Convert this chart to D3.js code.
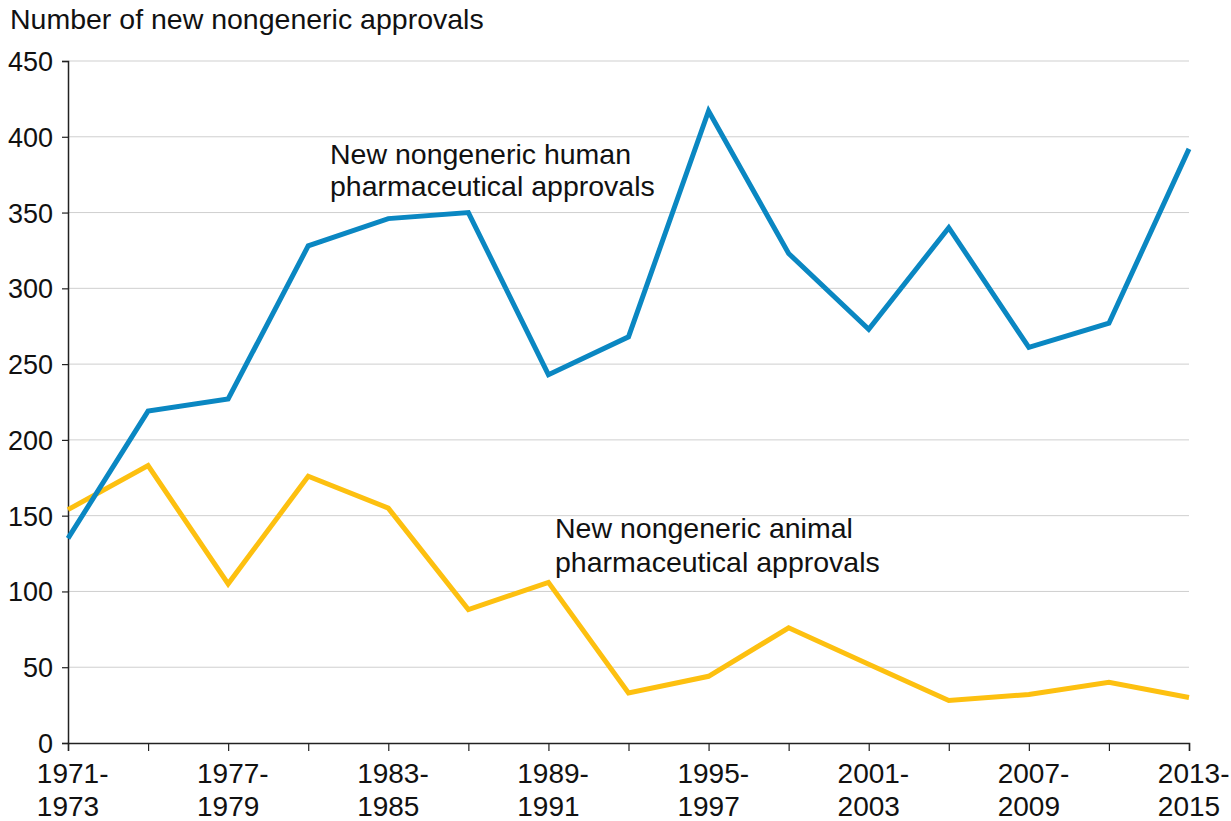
<!DOCTYPE html>
<html><head><meta charset="utf-8">
<script src="https://cdn.jsdelivr.net/npm/d3@7"></script>
<style>
body{margin:0;background:#fff;}
text{font-family:"Liberation Sans",Arial,Helvetica,sans-serif;fill:#111;}
</style></head>
<body>
<svg id="chart" width="1231" height="821"></svg>
<script>
const periods = ["1971-1973","1974-1976","1977-1979","1980-1982","1983-1985","1986-1988","1989-1991","1992-1994","1995-1997","1998-2000","2001-2003","2004-2006","2007-2009","2010-2012","2013-2015"];
const humanApprovals = [135,219,227,328,346,350,243,268,417,323,273,340,261,277,392];
const animalApprovals = [154,183,105,176,155,88,106,33,44,76,52,28,32,40,30];
const yTicks = [0,50,100,150,200,250,300,350,400,450];
const labeledPeriods = ["1971-1973","1977-1979","1983-1985","1989-1991","1995-1997","2001-2003","2007-2009","2013-2015"];
const yTitle = "Number of new nongeneric approvals";
const humanLabel = ["New nongeneric human","pharmaceutical approvals"];
const animalLabel = ["New nongeneric animal","pharmaceutical approvals"];

(function(){
const svg = d3.select("#chart");
const mLeft = 68, mRight = 1189, mTop = 61, mBottom = 743;
const x = d3.scalePoint().domain(periods).range([mLeft, mRight]);
const y = d3.scaleLinear().domain([0,450]).range([mBottom, mTop]);

// gridlines
svg.append("g").selectAll("line").data(yTicks.filter(d=>d>0)).join("line")
  .attr("x1", mLeft).attr("x2", mRight)
  .attr("y1", d=>y(d)).attr("y2", d=>y(d))
  .attr("stroke", "#cfcfcf").attr("stroke-width", 1);

// y axis
const yAxis = svg.append("g").attr("transform", `translate(${mLeft},0)`)
  .call(d3.axisLeft(y).tickValues(yTicks).tickSize(6).tickPadding(9));
yAxis.select(".domain").attr("stroke","#222").attr("stroke-width",1.5);
yAxis.selectAll(".tick line").attr("stroke","#222").attr("stroke-width",1.2);
yAxis.selectAll(".tick text").attr("font-size",27).attr("fill","#111")
  .attr("font-family","Liberation Sans, Arial, sans-serif").attr("dy","0.35em");

// x axis
const xAxis = svg.append("g").attr("transform", `translate(0,${mBottom})`)
  .call(d3.axisBottom(x).tickSize(8).tickFormat(""));
xAxis.select(".domain").attr("stroke","#222").attr("stroke-width",1.5);
xAxis.selectAll(".tick line").attr("stroke","#222").attr("stroke-width",1.2);

// x labels (two lines)
const xl = svg.append("g");
labeledPeriods.forEach(p => {
  const [a,b] = p.split("-");
  const t = xl.append("text").attr("font-size",28);
  const t2 = t.append("tspan").attr("y", 816).text(b);
  const w = t2.node().getComputedTextLength();
  const sx = x(p) - w/2;
  t2.attr("x", sx);
  t.insert("tspan","tspan").attr("x", sx).attr("y", 783).text(a + "-");
});

// title
svg.append("text").attr("x", 10).attr("y", 29).attr("font-size", 28.5).text(yTitle);

// lines
const line = d3.line().x((d,i)=>x(periods[i])).y(d=>y(d));
svg.append("path").datum(animalApprovals).attr("d", line)
  .attr("fill","none").attr("stroke","#fdc010").attr("stroke-width",5).attr("stroke-linejoin","miter");
svg.append("path").datum(humanApprovals).attr("d", line)
  .attr("fill","none").attr("stroke","#0a87c2").attr("stroke-width",5).attr("stroke-linejoin","miter");

// annotations
const ann = (lines, xx, y0, dy) => {
  const t = svg.append("text").attr("font-size",28.5);
  lines.forEach((s,i)=> t.append("tspan").attr("x", xx).attr("y", y0 + i*dy).text(s));
};
ann(humanLabel, 330, 164, 32);
ann(animalLabel, 555, 538, 34);
})();
</script>
</body></html>
